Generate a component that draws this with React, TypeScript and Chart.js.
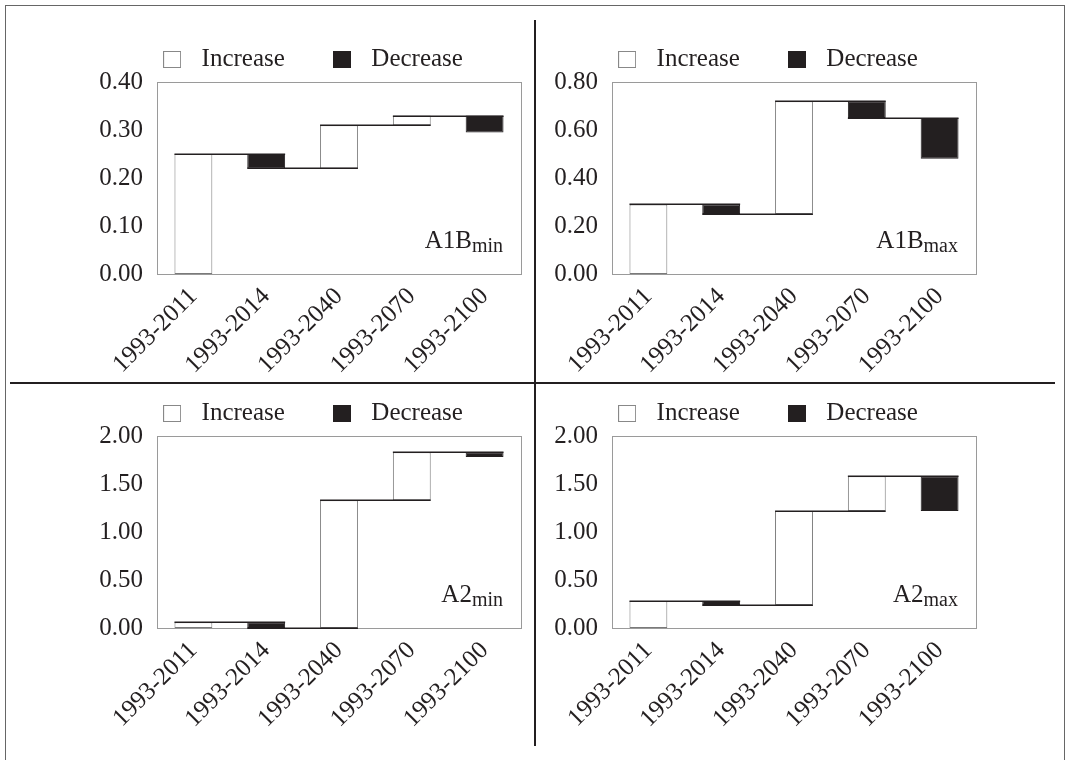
import React, { useEffect, useRef } from 'react';
import { Chart, registerables } from 'chart.js';

Chart.register(...registerables);

// ---- data ----
const categories = ['1993-2011', '1993-2014', '1993-2040', '1993-2070', '1993-2100'];
// cumulative level reached at the end of each period (bar i spans previous level -> this level)
const a1bMinLevels = [0.25, 0.22, 0.31, 0.33, 0.295];
const a1bMaxLevels = [0.29, 0.25, 0.72, 0.65, 0.48];
const a2MinLevels = [0.06, 0.0, 1.33, 1.83, 1.78];
const a2MaxLevels = [0.28, 0.24, 1.22, 1.58, 1.22];

const a1bMinTicks = { max: 0.4, step: 0.1 };
const a1bMaxTicks = { max: 0.8, step: 0.2 };
const a2MinTicks = { max: 2.0, step: 0.5 };
const a2MaxTicks = { max: 2.0, step: 0.5 };

const seriesLabels = ['Increase', 'Decrease'];

// ---- styling / layout ----
const FONT = "'Liberation Serif', 'Times New Roman', serif";
const INK = '#231f20';
const BAR_EDGE = '#7a7a7a';
const FRAME = '#9a9a9a';
const Y_AXIS_W = 60;
const PAD_L = 10;
const PAD_R = 20;
const PAD_T = 13;
const X_AXIS_H = 100;
const TOP_SPACE = 90;
const PLOT_H = 190;
const PLOT_W = 364;
const CANVAS_W = PAD_L + Y_AXIS_W + PLOT_W + PAD_R;

type Panel = {
  levels: number[];
  ticks: { max: number; step: number };
  name: string;
  sub: string;
  plotLeft: number;
  plotTop: number;
};

const panels: Panel[] = [
  { levels: a1bMinLevels, ticks: a1bMinTicks, name: 'A1B', sub: 'min', plotLeft: 157, plotTop: 84 },
  { levels: a1bMaxLevels, ticks: a1bMaxTicks, name: 'A1B', sub: 'max', plotLeft: 612, plotTop: 84 },
  { levels: a2MinLevels, ticks: a2MinTicks, name: 'A2', sub: 'min', plotLeft: 157, plotTop: 438 },
  { levels: a2MaxLevels, ticks: a2MaxTicks, name: 'A2', sub: 'max', plotLeft: 612, plotTop: 438 },
];

function buildBars(levels: number[]) {
  const inc: ([number, number] | null)[] = [];
  const dec: ([number, number] | null)[] = [];
  levels.forEach((v, i) => {
    const prev = i === 0 ? 0 : levels[i - 1];
    if (v >= prev) {
      inc.push([prev, v]);
      dec.push(null);
    } else {
      inc.push(null);
      dec.push([v, prev]);
    }
  });
  return { inc, dec };
}

function makeLegendBox(fill: string, stroke: string) {
  const c = document.createElement('canvas');
  c.width = 18;
  c.height = 17;
  const g = c.getContext('2d')!;
  g.fillStyle = fill;
  g.fillRect(0.5, 0.5, 17, 16);
  g.strokeStyle = stroke;
  g.lineWidth = 1;
  g.strokeRect(0.5, 0.5, 17, 16);
  return c;
}

const framePlugin = {
  id: 'frame',
  beforeDatasetsDraw(chart: any) {
    const { ctx, chartArea: a } = chart;
    ctx.save();
    ctx.strokeStyle = FRAME;
    ctx.lineWidth = 1;
    ctx.strokeRect(Math.round(a.left) + 0.5, Math.round(a.top) + 0.5, Math.round(a.right - a.left), Math.round(a.bottom - a.top));
    ctx.restore();
  },
};

function connectorPlugin(levels: number[]) {
  return {
    id: 'connectors',
    afterDatasetsDraw(chart: any) {
      const { ctx } = chart;
      const y = chart.scales.y;
      const getEl = (i: number) => {
        for (let d = 0; d < chart.data.datasets.length; d++) {
          if (chart.data.datasets[d].data[i] != null) return chart.getDatasetMeta(d).data[i];
        }
        return null;
      };
      ctx.save();
      ctx.strokeStyle = INK;
      ctx.lineWidth = 1.5;
      for (let i = 0; i < levels.length - 1; i++) {
        const a: any = getEl(i);
        const b: any = getEl(i + 1);
        if (!a || !b) continue;
        const yy = Math.round(y.getPixelForValue(levels[i])) + 0.25;
        ctx.beginPath();
        ctx.moveTo(a.x - a.width / 2, yy);
        ctx.lineTo(b.x + b.width / 2, yy);
        ctx.stroke();
      }
      ctx.restore();
    },
  };
}

function namePlugin(name: string, sub: string) {
  return {
    id: 'scenarioName',
    afterDraw(chart: any) {
      const { ctx, chartArea: a } = chart;
      ctx.save();
      ctx.fillStyle = INK;
      ctx.textBaseline = 'alphabetic';
      ctx.font = `25px ${FONT}`;
      const w1 = ctx.measureText(name).width;
      ctx.font = `20px ${FONT}`;
      const w2 = ctx.measureText(sub).width;
      const x0 = a.right - 18 - w1 - w2;
      const base = a.bottom - 26;
      ctx.font = `25px ${FONT}`;
      ctx.fillText(name, x0, base);
      ctx.font = `20px ${FONT}`;
      ctx.fillText(sub, x0 + w1, base + 4);
      ctx.restore();
    },
  };
}

function WaterfallPanel({ panel }: { panel: Panel }) {
  const ref = useRef<HTMLCanvasElement>(null);
  const height = TOP_SPACE + PLOT_H + X_AXIS_H;
  useEffect(() => {
    if (!ref.current) return;
    const { inc, dec } = buildBars(panel.levels);
    const boxes = [makeLegendBox('#ffffff', '#888888'), makeLegendBox(INK, INK)];
    const common = {
      grouped: false,
      barPercentage: 0.52,
      categoryPercentage: 1,
      borderWidth: 1,
      borderSkipped: false,
    };
    const chart = new Chart(ref.current, {
      type: 'bar',
      data: {
        labels: categories,
        datasets: [
          { ...common, label: seriesLabels[0], data: inc as any, backgroundColor: '#ffffff', borderColor: BAR_EDGE },
          { ...common, label: seriesLabels[1], data: dec as any, backgroundColor: INK, borderColor: INK },
        ],
      } as any,
      options: {
        animation: false,
        responsive: false,
        maintainAspectRatio: false,
        layout: { padding: { top: PAD_T, right: PAD_R, left: PAD_L, bottom: 0 } },
        plugins: {
          legend: {
            position: 'top',
            labels: {
              font: { family: FONT, size: 25 },
              color: INK,
              usePointStyle: true,
              pointStyleWidth: 34,
              boxHeight: 17,
              padding: 40,
              generateLabels: (c: any) => {
                const items = (Chart as any).defaults.plugins.legend.labels.generateLabels(c);
                items.forEach((it: any, i: number) => {
                  it.pointStyle = boxes[i];
                });
                return items;
              },
            },
          },
          tooltip: { enabled: false },
        },
        scales: {
          x: {
            grid: { display: false, drawTicks: false },
            border: { display: false },
            ticks: {
              font: { family: FONT, size: 25 },
              color: INK,
              minRotation: 45,
              maxRotation: 45,
              autoSkip: false,
              padding: 8,
            },
            afterFit: (s: any) => {
              s.height = X_AXIS_H;
            },
          },
          y: {
            min: 0,
            max: panel.ticks.max,
            grid: { display: false, drawTicks: false },
            border: { display: false },
            ticks: {
              stepSize: panel.ticks.step,
              font: { family: FONT, size: 25 },
              color: INK,
              padding: 14,
              callback: (v: any) => Number(v).toFixed(2),
            },
            afterFit: (s: any) => {
              s.width = Y_AXIS_W;
            },
          },
        },
      } as any,
      plugins: [framePlugin, connectorPlugin(panel.levels), namePlugin(panel.name, panel.sub)],
    });
    return () => chart.destroy();
  }, [panel]);
  return (
    <canvas
      ref={ref}
      width={CANVAS_W}
      height={height}
      style={{
        position: 'absolute',
        left: panel.plotLeft - Y_AXIS_W - PAD_L,
        top: panel.plotTop - TOP_SPACE,
        width: CANVAS_W,
        height,
      }}
    />
  );
}

export default function App() {
  return (
    <div
      style={{
        position: 'fixed',
        left: 0,
        top: 0,
        width: 1065,
        height: 760,
        overflow: 'hidden',
        background: '#ffffff',
      }}
    >
      <div
        style={{
          position: 'absolute',
          left: 5,
          top: 5,
          width: 1058,
          height: 780,
          border: '1px solid #666',
        }}
      />
      {panels.map((p, i) => (
        <WaterfallPanel key={i} panel={p} />
      ))}
      <div style={{ position: 'absolute', left: 534, top: 20, width: 2, height: 726, background: INK }} />
      <div style={{ position: 'absolute', left: 10, top: 382, width: 1045, height: 2, background: INK }} />
    </div>
  );
}
